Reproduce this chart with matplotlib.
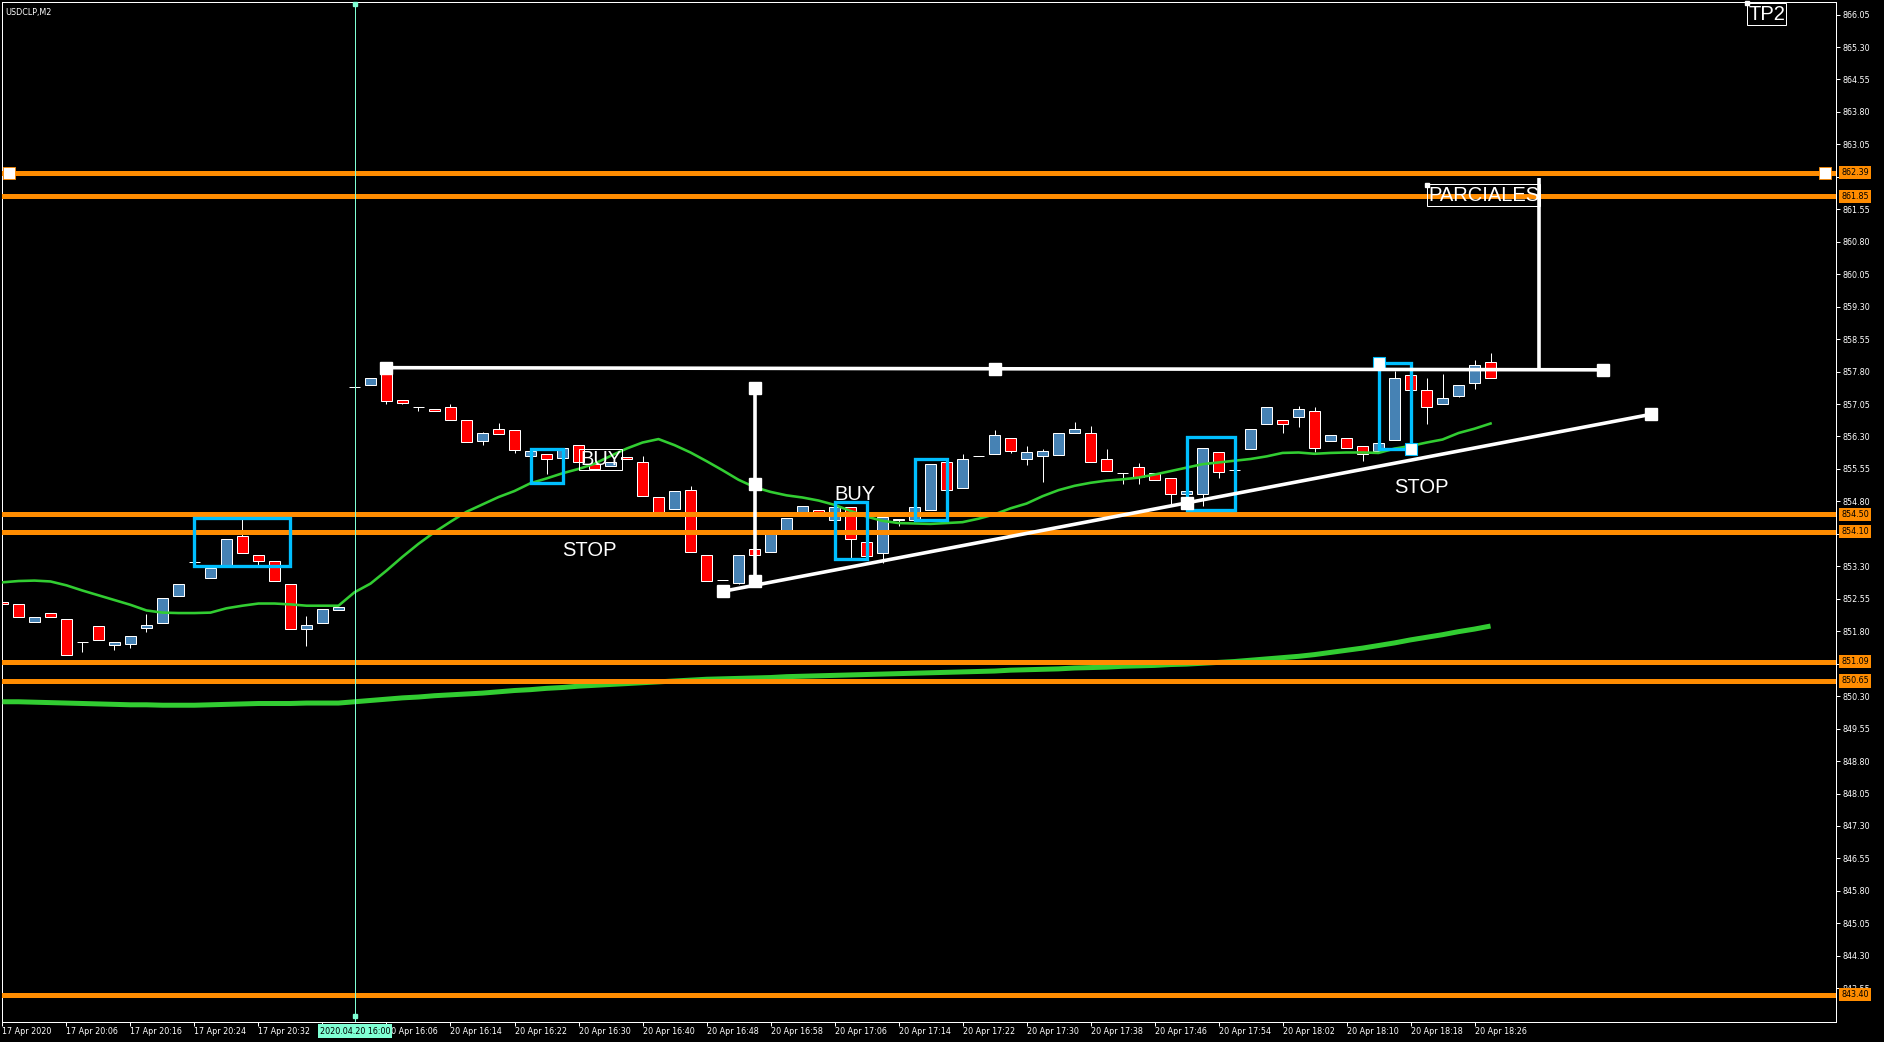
import numpy as np
import matplotlib.pyplot as plt
from matplotlib.patches import Rectangle
from matplotlib.transforms import blended_transform_factory

# USDCLP M2 candles, one entry per bar on screen (bar index = position)
opens = [852.48, 852.44, 852.02, 852.21, 852.09, 851.54, 851.93, 851.49, 851.51, 851.88,
         852.00, 852.62, 853.40, 853.03, 853.29, 853.99, 853.55, 853.43, 852.90, 851.84,
         851.98, 852.30, 857.44, 857.50, 857.88, 857.15, 856.97, 856.94, 856.99, 856.69,
         856.20, 856.48, 856.44, 855.86, 855.90, 855.81, 856.11, 855.67, 855.62, 855.82,
         855.70, 854.90, 854.63, 855.07, 853.57, 852.99, 852.92, 853.71, 853.63, 854.10,
         854.50, 854.60, 854.38, 854.67, 853.87, 853.60, 854.36, 854.36, 854.59, 855.70,
         855.10, 855.84, 855.90, 856.27, 855.77, 855.86, 855.88, 856.39, 856.37, 855.77,
         855.46, 855.60, 855.46, 855.35, 854.96, 854.98, 855.95, 855.53, 856.00, 856.60,
         856.69, 856.75, 856.90, 856.20, 856.27, 856.07, 855.96, 856.23, 857.71, 857.38,
         857.06, 857.24, 857.54, 858.01]
highs = [852.48, 852.44, 852.14, 852.21, 852.09, 851.54, 851.93, 851.56, 851.68, 852.19,
         852.56, 852.88, 853.40, 853.25, 853.94, 854.42, 853.55, 853.43, 852.90, 852.15,
         852.32, 852.37, 857.44, 857.66, 857.88, 857.15, 856.97, 856.94, 857.04, 856.69,
         856.40, 856.61, 856.44, 855.97, 855.90, 856.04, 856.11, 855.67, 855.70, 855.82,
         855.84, 854.90, 855.05, 855.15, 853.57, 852.99, 853.57, 853.71, 854.04, 854.42,
         854.69, 854.60, 854.67, 854.67, 853.87, 854.44, 854.40, 854.66, 855.67, 855.81,
         855.89, 855.84, 856.44, 856.27, 856.07, 856.00, 856.37, 856.64, 856.54, 856.00,
         855.46, 855.68, 855.46, 855.35, 855.03, 856.04, 855.95, 855.66, 856.48, 856.97,
         856.69, 857.00, 856.97, 856.34, 856.27, 856.07, 856.14, 857.81, 857.71, 857.64,
         857.75, 857.48, 858.06, 858.24]
lows = [852.44, 852.13, 852.02, 852.14, 851.24, 851.32, 851.59, 851.36, 851.42, 851.78,
        852.00, 852.62, 853.40, 853.03, 853.29, 853.60, 853.31, 852.97, 851.86, 851.46,
        851.98, 852.30, 857.44, 857.50, 857.04, 857.04, 856.89, 856.90, 856.68, 856.18,
        856.10, 856.36, 855.92, 855.86, 855.44, 855.81, 855.72, 855.56, 855.62, 855.78,
        854.93, 854.52, 854.63, 853.63, 852.97, 852.99, 852.90, 853.57, 853.63, 854.10,
        854.50, 854.55, 854.38, 853.48, 853.44, 853.37, 854.23, 854.36, 854.59, 855.07,
        855.10, 855.84, 855.90, 855.92, 855.64, 855.25, 855.88, 856.37, 855.70, 855.51,
        855.21, 855.21, 855.29, 854.75, 854.96, 854.70, 855.33, 855.53, 856.00, 856.60,
        856.38, 856.52, 855.94, 856.20, 856.03, 855.73, 855.96, 856.23, 857.37, 856.60,
        857.06, 857.22, 857.40, 857.66]
closes = [852.44, 852.13, 852.14, 852.14, 851.24, 851.54, 851.59, 851.56, 851.68, 851.95,
          852.56, 852.88, 853.40, 853.25, 853.94, 853.60, 853.43, 852.97, 851.86, 851.95,
          852.32, 852.37, 857.44, 857.66, 857.13, 857.08, 856.97, 856.90, 856.68, 856.18,
          856.37, 856.36, 855.99, 855.97, 855.77, 856.04, 855.72, 855.56, 855.70, 855.78,
          854.93, 854.52, 855.05, 853.63, 852.97, 852.99, 853.57, 853.57, 854.04, 854.42,
          854.69, 854.55, 854.67, 853.94, 853.54, 854.44, 854.40, 854.66, 855.67, 855.07,
          855.77, 855.84, 856.34, 855.97, 855.93, 855.96, 856.37, 856.48, 855.70, 855.51,
          855.46, 855.36, 855.29, 854.96, 855.03, 856.04, 855.47, 855.53, 856.48, 856.97,
          856.58, 856.94, 856.03, 856.34, 856.03, 855.89, 856.14, 857.66, 857.37, 856.98,
          857.20, 857.48, 857.96, 857.66]

# fast moving average (thin green)
ma_fast = [852.93, 852.96, 852.97, 852.95, 852.86, 852.74, 852.63, 852.52, 852.41, 852.28,
           852.23, 852.22, 852.22, 852.23, 852.33, 852.39, 852.44, 852.44, 852.42, 852.39,
           852.39, 852.39, 852.70, 852.90, 853.20, 853.52, 853.82, 854.09, 854.33, 854.56,
           854.73, 854.90, 855.04, 855.22, 855.33, 855.45, 855.55, 855.67, 855.85, 856.02,
           856.16, 856.24, 856.10, 855.93, 855.73, 855.52, 855.30, 855.13, 855.02, 854.94,
           854.89, 854.82, 854.72, 854.58, 854.45, 854.35, 854.30, 854.29, 854.28, 854.30,
           854.32, 854.40, 854.50, 854.64, 854.75, 854.92, 855.06, 855.16, 855.23, 855.28,
           855.31, 855.35, 855.42, 855.50, 855.58, 855.66, 855.70, 855.74, 855.78, 855.84,
           855.92, 855.93, 855.90, 855.92, 855.93, 855.93, 855.92, 856.02, 856.08, 856.16,
           856.23, 856.38, 856.48, 856.60]
# slow moving average (thick green)
ma_slow = [850.17, 850.17, 850.16, 850.15, 850.14, 850.13, 850.12, 850.11, 850.10, 850.10,
           850.09, 850.09, 850.09, 850.10, 850.11, 850.12, 850.13, 850.13, 850.13, 850.14,
           850.14, 850.14, 850.17, 850.20, 850.23, 850.26, 850.28, 850.31, 850.33, 850.35,
           850.37, 850.40, 850.43, 850.45, 850.48, 850.50, 850.53, 850.55, 850.57, 850.59,
           850.61, 850.63, 850.65, 850.67, 850.69, 850.70, 850.71, 850.72, 850.73, 850.75,
           850.76, 850.77, 850.78, 850.79, 850.80, 850.81, 850.82, 850.83, 850.84, 850.85,
           850.86, 850.87, 850.88, 850.90, 850.91, 850.92, 850.93, 850.95, 850.96, 850.97,
           850.99, 851.00, 851.01, 851.03, 851.04, 851.06, 851.08, 851.10, 851.13, 851.16,
           851.19, 851.22, 851.26, 851.31, 851.36, 851.41, 851.47, 851.53, 851.60, 851.66,
           851.72, 851.79, 851.85, 851.92]

levels = [862.39, 861.85, 854.50, 854.10, 851.09, 850.65, 843.40]
level_labels = ['862.39', '861.85', '854.50', '854.10', '851.09', '850.65', '843.40']

price_ticks = [843.55, 844.30, 845.05, 845.80, 846.55, 847.30, 848.05, 848.80, 849.55,
               850.30, 851.05, 851.80, 852.55, 853.30, 854.05, 854.80, 855.55, 856.30,
               857.05, 857.80, 858.55, 859.30, 860.05, 860.80, 861.55, 862.30, 863.05,
               863.80, 864.55, 865.30, 866.05]
# labels hidden under the level tags in the terminal are left blank
price_labels = ['843.55', '844.30', '845.05', '845.80', '846.55', '847.30', '848.05',
                '848.80', '849.55', '850.30', '851.05', '851.80', '852.55', '853.30',
                '854.05', '854.80', '855.55', '856.30', '857.05', '857.80', '858.55',
                '859.30', '860.05', '860.80', '861.55', '', '863.05', '863.80', '864.55',
                '865.30', '866.05']
time_ticks = [0, 4, 8, 12, 16, 20, 24, 28, 32, 36, 40, 44, 48, 52, 56, 60, 64, 68, 72, 76,
              80, 84, 88, 92]
time_labels = ['17 Apr 2020', '17 Apr 20:06', '17 Apr 20:16', '17 Apr 20:24', '17 Apr 20:32',
               '', '20 Apr 16:06', '20 Apr 16:14', '20 Apr 16:22', '20 Apr 16:30',
               '20 Apr 16:40', '20 Apr 16:48', '20 Apr 16:58', '20 Apr 17:06', '20 Apr 17:14',
               '20 Apr 17:22', '20 Apr 17:30', '20 Apr 17:38', '20 Apr 17:46', '20 Apr 17:54',
               '20 Apr 18:02', '20 Apr 18:10', '20 Apr 18:18', '20 Apr 18:26']

# rectangles: (bar from, bar to, low, high)
boxes = [(12, 18, 853.30, 854.41), (33, 35, 855.22, 856.00), (52, 54, 853.47, 854.79),
         (57, 59, 854.38, 855.79), (74, 77, 854.61, 856.29), (86, 88, 856.02, 857.99)]
# trend lines: (bar0, price0, bar1, price1, selected)
trend_lines = [(24, 857.89, 100, 857.84, True), (45, 852.72, 103, 856.81, True),
               (47, 852.96, 47, 857.43, True), (96, 857.85, 96, 862.28, False)]
# text labels: (text, bar, price, framed, align)
labels = [('PARCIALES', 89.1, 861.88, True, 'left'), ('BUY', 36.1, 855.77, True, 'left'),
          ('BUY', 52.0, 854.97, False, 'left'), ('STOP', 36.7, 853.67, False, 'center'),
          ('STOP', 88.7, 855.12, False, 'center'), ('TP2', 109.1, 866.06, True, 'left')]
cursor_bar = 22.03
cursor_label = '2020.04.20 16:00'

BULL = '#4682B4'
BEAR = '#FF0000'
ORANGE = '#FF8C00'
CYAN = '#00BFFF'
GREEN = '#32CD32'
MINT = '#7FFFD4'
PX = 0.72  # points per pixel at dpi 100

fig = plt.figure(figsize=(18.84, 10.42), dpi=100, facecolor='black')
ax = fig.add_axes([2 / 1884, 20 / 1042, 1834 / 1884, 1020 / 1042], facecolor='black')
ax.set_xlim(-0.03, 114.59)
ax.set_ylim(842.77, 866.34)

for s in ax.spines.values():
    s.set_color('white')
    s.set_linewidth(1 * PX)

ax.yaxis.tick_right()
ax.set_yticks(price_ticks, price_labels)
ax.set_xticks(time_ticks, time_labels, ha='left')
ax.tick_params(axis='both', colors='white', direction='out', length=4 * PX,
               width=1 * PX, labelsize=5.8)
ax.tick_params(axis='y', pad=1.5)
ax.tick_params(axis='x', pad=1.0)

# moving averages
bars = np.arange(len(opens))
ax.plot(bars, ma_slow, color=GREEN, lw=5 * PX, zorder=3, solid_capstyle='butt')
ax.plot(bars, ma_fast, color=GREEN, lw=2.6 * PX, zorder=3)

# candles
body_w = 0.64
ax.vlines(bars, lows, highs, color='white', lw=1 * PX, zorder=2)
for i in bars:
    o, c = opens[i], closes[i]
    col = BULL if c > o else BEAR
    lo, h = min(o, c), abs(c - o)
    ax.add_patch(Rectangle((i - body_w / 2, lo), body_w, h, facecolor=col,
                           edgecolor='white', lw=1 * PX, zorder=2.2))

# horizontal levels
for lv in levels:
    ax.axhline(lv, color=ORANGE, lw=5 * PX, zorder=4)
ax.plot([0.4, 113.9], [levels[0], levels[0]], 's', color='white', ms=8,
        mec=ORANGE, mew=0.6, zorder=5)

# rectangles
for b0, b1, lo, hi in boxes:
    ax.add_patch(Rectangle((b0, lo), b1 - b0, hi - lo, facecolor='none',
                           edgecolor=CYAN, lw=3.3 * PX, zorder=6))
ax.plot([boxes[5][0], boxes[5][1]], [boxes[5][3], boxes[5][2]], 's', color='white',
        ms=8, mec=CYAN, mew=0.8, zorder=7)

# trend lines
for b0, p0, b1, p1, sel in trend_lines:
    ax.plot([b0, b1], [p0, p1], color='white', lw=3.6 * PX, zorder=8,
            solid_capstyle='butt')
    if sel:
        ax.plot([b0, (b0 + b1) / 2, b1], [p0, (p0 + p1) / 2, p1], 's', color='white',
                ms=8, zorder=9)

# labels
for txt, b, p, framed, al in labels:
    kw = {}
    if framed:
        kw['bbox'] = dict(boxstyle='square,pad=0.06', facecolor='none',
                          edgecolor='white', lw=1 * PX)
    ax.text(b, p, txt, color='white', fontsize=14.5, family='Liberation Sans',
            ha=al, va='center', zorder=10, **kw)
ax.plot([89.05], [862.12], 's', color='white', ms=3, zorder=10)
ax.plot([109.0], [866.31], 's', color='white', ms=3, zorder=10, clip_on=False)

ax.text(0.2, 866.1, 'USDCLP,M2', color='white', fontsize=5.8, ha='left', va='center',
        zorder=10)

# level tags on the price scale
tr = blended_transform_factory(ax.transAxes, ax.transData)
for lv, lab in zip(levels, level_labels):
    ax.text(1.0 + 5 / 1834, lv, lab, transform=tr, color='black', fontsize=5.8,
            ha='left', va='center', zorder=12, clip_on=False,
            bbox=dict(boxstyle='square,pad=0.25', facecolor=ORANGE, edgecolor='none'))

# crosshair
ax.axvline(cursor_bar, color=MINT, lw=1 * PX, zorder=11)
ax.plot([cursor_bar, cursor_bar], [866.3, 842.9], 's', color=MINT, ms=3.5, zorder=11,
        clip_on=False)
fig.text((2 + cursor_bar * 16 + 0.5) / 1884, 11 / 1042, cursor_label, color='black',
         fontsize=5.8, ha='center', va='center', zorder=20,
         bbox=dict(boxstyle='square,pad=0.25', facecolor=MINT, edgecolor='none'))

fig.savefig('out.png', dpi=100, facecolor='black')
